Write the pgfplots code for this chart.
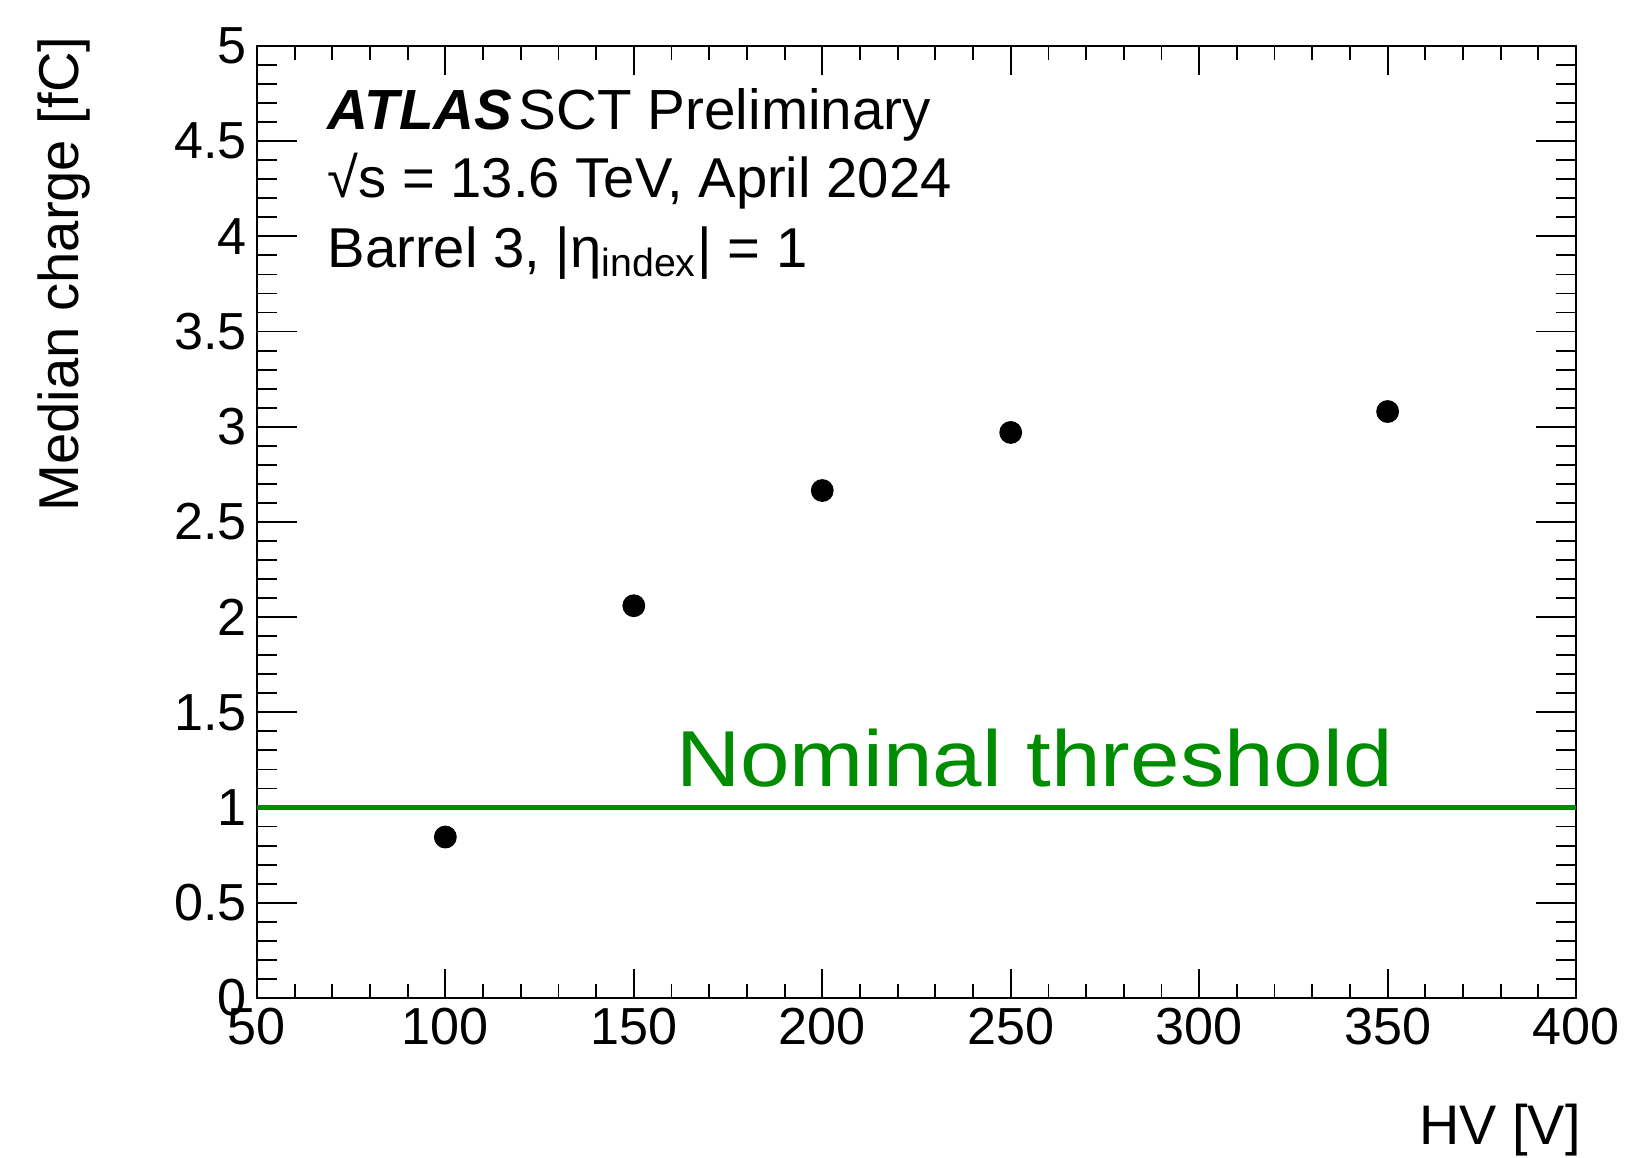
\documentclass[border=0pt]{standalone}
\usepackage{fontspec}
\setmainfont{Liberation Sans}
\newfontfamily\nomfont[FakeStretch=1.12]{Liberation Sans}
\usepackage{pgfplots}
\pgfplotsset{compat=1.18}
\definecolor{rootgreen}{RGB}{0,140,0}
\begin{document}
\begin{tikzpicture}
\begin{axis}[
  scale only axis,
  width=324pt, height=233.8pt,
  xmin=50, xmax=400, ymin=0, ymax=5,
  xtick={50,100,...,400}, minor x tick num=4,
  ytick={0,0.5,...,5}, minor y tick num=4,
  yticklabels={0,0.5,1,1.5,2,2.5,3,3.5,4,4.5,5},
  tick pos=both, tick align=inside,
  x tick style={/pgfplots/major tick length=7.1pt,/pgfplots/minor tick length=3.5pt, line width=0.45pt, black},
  y tick style={/pgfplots/major tick length=9.8pt,/pgfplots/minor tick length=4.9pt, line width=0.45pt, black},
  axis line style={line width=0.55pt},
  /pgf/number format/assume math mode=true,
  ticklabel style={font=\fontsize{12.8}{14}\selectfont},
  xticklabel style={yshift=1pt},
  yticklabel style={xshift=1pt},
  xlabel={HV [V]},
  xlabel style={at={(rel axis cs:1.004,-0.139)}, anchor=east, inner sep=0pt, font=\fontsize{13.7}{15}\selectfont},
  ylabel={Median charge [fC]},
  ylabel style={at={(rel axis cs:-0.1463,1.0107)}, anchor=east, inner sep=0pt, font=\fontsize{13.8}{15}\selectfont},
  clip=false,
]
\addplot[rootgreen, line width=1pt] coordinates {(50,1) (400,1)};
\addplot[only marks, mark=*, mark size=2.6pt, black] coordinates {
  (100,0.845) (150,2.06) (200,2.665) (250,2.97) (350,3.08)
};
\node[anchor=base west, inner sep=0pt, font=\fontsize{13.9}{15}\selectfont] at (rel axis cs:0.0531,0.9127) {\textbf{\textit{ATLAS}}\hspace{0.12em}SCT Preliminary};
\node[anchor=base west, inner sep=0pt, font=\fontsize{13.8}{15}\selectfont] at (rel axis cs:0.0531,0.8413) {√s = 13.6 TeV, April 2024};
\node[anchor=base west, inner sep=0pt, font=\fontsize{13.8}{15}\selectfont] at (rel axis cs:0.0531,0.7669) {Barrel 3, |η\textsubscript{index}| = 1};
\node[anchor=base west, inner sep=0pt, text=rootgreen, font=\nomfont\fontsize{19.5}{24}\selectfont] at (axis cs:161,1.11) {Nominal threshold};
\end{axis}
\pgfresetboundingbox
\path ([shift={(-63.1pt,-39.3pt)}]current axis.south west) rectangle ([shift={(13pt,11.3pt)}]current axis.north east);
\end{tikzpicture}
\end{document}
